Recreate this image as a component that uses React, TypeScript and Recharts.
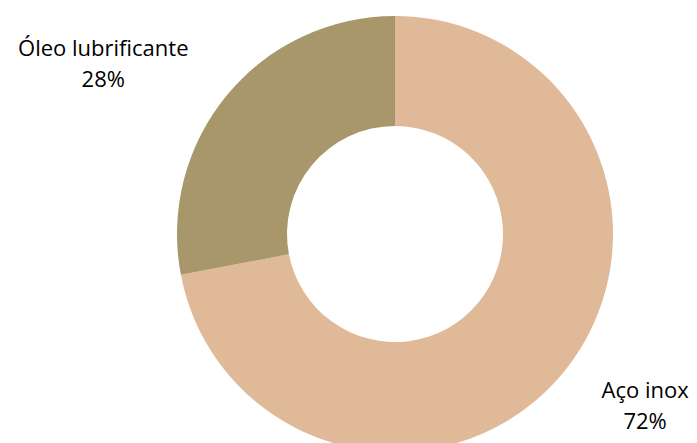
import { PieChart, Pie, Cell } from "recharts"

const materials = ["Aço inox", "Óleo lubrificante"]
const shares = [72, 28]
const colors = ["#E0B999", "#A8976B"]

const chartData = materials.map((name, i) => ({ name, value: shares[i] }))

const FONT = "500 22px 'Open Sans', sans-serif"
let ctx: CanvasRenderingContext2D | null = null
function textWidth(s: string) {
  if (!ctx) ctx = document.createElement("canvas").getContext("2d")
  if (!ctx) return s.length * 10
  ctx.font = FONT
  return ctx.measureText(s).width
}

const RAD = Math.PI / 180

function renderLabel(props: any) {
  const { cx, cy, midAngle, payload, percent } = props
  const r = 268
  const x = cx + r * Math.cos(-midAngle * RAD)
  const y = cy + r * Math.sin(-midAngle * RAD)
  const right = x > cx
  const w = textWidth(payload.name)
  const mid = right ? x + w / 2 : x - w / 2
  return (
    <text x={mid} y={y} textAnchor="middle" fill="#000" style={{ font: FONT }}>
      <tspan x={mid} dy={-7}>{payload.name}</tspan>
      <tspan x={mid} dy={31}>{`${Math.round(percent * 100)}%`}</tspan>
    </text>
  )
}

export default function App() {
  return (
    <div style={{ position: "absolute", left: 0, top: 0, width: 697, height: 443, background: "#fff" }}>
      <PieChart width={697} height={443}>
        <Pie
          data={chartData}
          dataKey="value"
          nameKey="name"
          cx={390}
          cy={229}
          innerRadius={108}
          outerRadius={218}
          startAngle={90}
          endAngle={-270}
          stroke="none"
          label={renderLabel}
          labelLine={false}
          isAnimationActive={false}
        >
          {chartData.map((d, i) => (
            <Cell key={d.name} fill={colors[i]} />
          ))}
        </Pie>
      </PieChart>
    </div>
  )
}
